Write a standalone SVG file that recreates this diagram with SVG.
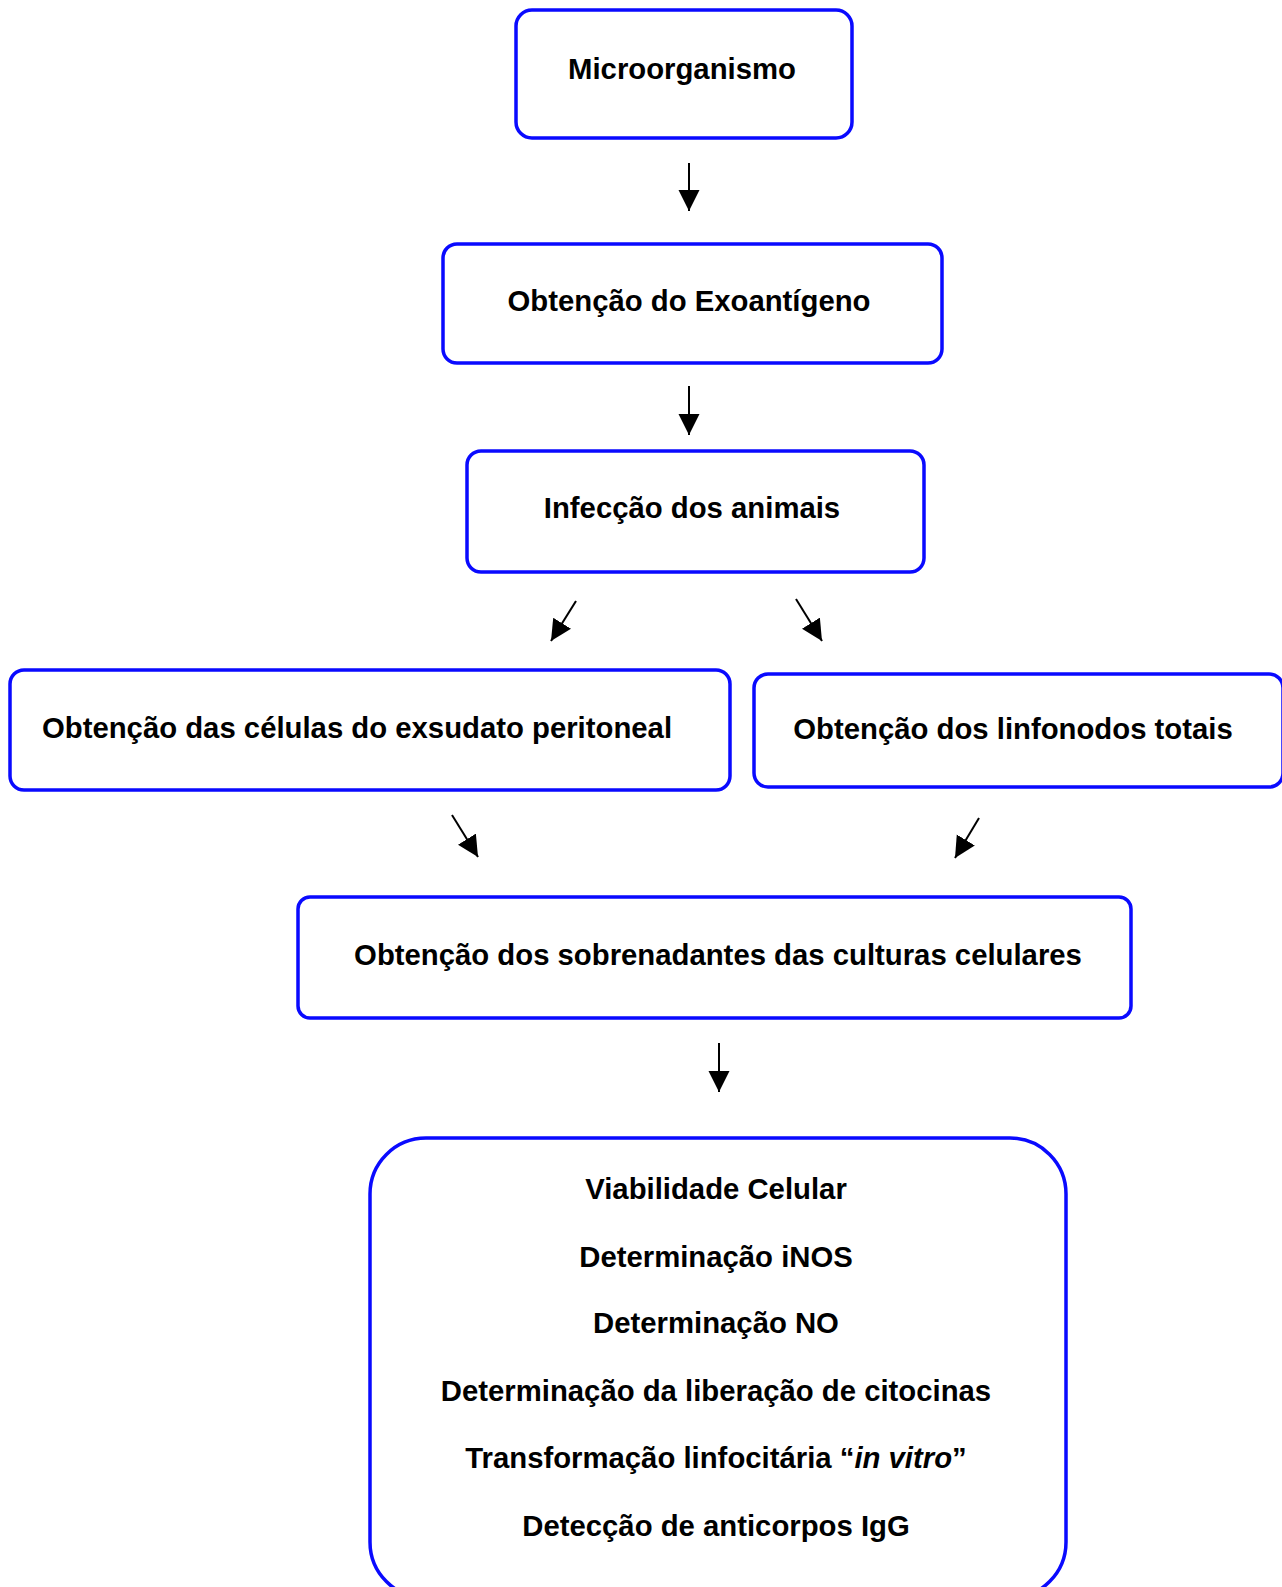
<svg xmlns="http://www.w3.org/2000/svg" width="1282" height="1587" viewBox="0 0 1282 1587">
<style>
.box{fill:#fff;stroke:#0a0aff;stroke-width:3.5}
.t{font-family:"Liberation Sans",Arial,sans-serif;font-weight:bold;font-size:29.3px;fill:#000;text-anchor:middle}
.c{stroke:#000;stroke-width:2;fill:none}
</style>
<defs>
<marker id="ah" markerUnits="userSpaceOnUse" markerWidth="22" markerHeight="22" refX="21" refY="10.5" orient="auto" viewBox="0 0 22 22">
<path d="M0,0 L21,10.5 L0,21 z" fill="#000"/>
</marker>
</defs>
<rect width="1282" height="1587" fill="#fff"/>
<g id="connectors">
<line class="c" x1="689" y1="163" x2="689" y2="211" marker-end="url(#ah)"/>
<line class="c" x1="689" y1="386" x2="689" y2="435" marker-end="url(#ah)"/>
<line class="c" x1="576" y1="601" x2="551" y2="641" marker-end="url(#ah)"/>
<line class="c" x1="796" y1="599" x2="822" y2="641" marker-end="url(#ah)"/>
<line class="c" x1="452" y1="815" x2="478" y2="857" marker-end="url(#ah)"/>
<line class="c" x1="979" y1="818" x2="955" y2="858" marker-end="url(#ah)"/>
<line class="c" x1="719" y1="1043" x2="719" y2="1092" marker-end="url(#ah)"/>
</g>
<g id="n1">
<rect class="box" x="516" y="10" width="336" height="128" rx="16"/>
<text class="t" x="682" y="79">Microorganismo</text>
</g>
<g id="n2">
<rect class="box" x="443" y="244" width="499" height="119" rx="14"/>
<text class="t" x="689" y="311">Obtenção do Exoantígeno</text>
</g>
<g id="n3">
<rect class="box" x="467" y="451" width="457" height="121" rx="14"/>
<text class="t" x="692" y="518">Infecção dos animais</text>
</g>
<g id="n4">
<rect class="box" x="10" y="670" width="720" height="120" rx="14"/>
<text class="t" x="357" y="738">Obtenção das células do exsudato peritoneal</text>
</g>
<g id="n5">
<rect class="box" x="754" y="674" width="529" height="113" rx="14"/>
<text class="t" x="1013" y="739">Obtenção dos linfonodos totais</text>
</g>
<g id="n6">
<rect class="box" x="298" y="897" width="833" height="121" rx="12"/>
<text class="t" x="718" y="965">Obtenção dos sobrenadantes das culturas celulares</text>
</g>
<g id="n7">
<rect class="box" x="370" y="1138" width="696" height="460" rx="56"/>
<text class="t" x="716" y="1199">Viabilidade Celular</text>
<text class="t" x="716" y="1267">Determinação iNOS</text>
<text class="t" x="716" y="1333">Determinação NO</text>
<text class="t" x="716" y="1401">Determinação da liberação de citocinas</text>
<text class="t" x="716" y="1468">Transformação linfocitária “<tspan font-style="italic">in vitro</tspan>”</text>
<text class="t" x="716" y="1536">Detecção de anticorpos IgG</text>
</g>
</svg>
